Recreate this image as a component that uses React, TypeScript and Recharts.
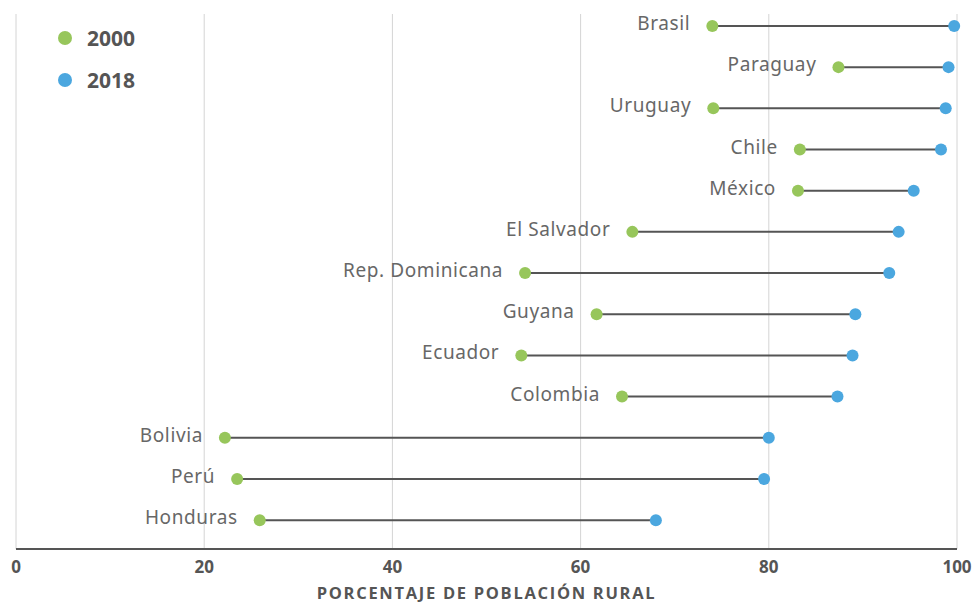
import {
  CartesianGrid,
  ReferenceLine,
  Scatter,
  ScatterChart,
  XAxis,
  YAxis,
  LabelList,
} from 'recharts'

const countries = [
  'Brasil',
  'Paraguay',
  'Uruguay',
  'Chile',
  'México',
  'El Salvador',
  'Rep. Dominicana',
  'Guyana',
  'Ecuador',
  'Colombia',
  'Bolivia',
  'Perú',
  'Honduras',
]
const values2000 = [74.0, 87.4, 74.1, 83.3, 83.1, 65.5, 54.1, 61.7, 53.7, 64.4, 22.2, 23.5, 25.9]
const values2018 = [99.7, 99.1, 98.8, 98.3, 95.4, 93.8, 92.8, 89.2, 88.9, 87.3, 80.0, 79.5, 68.0]
const xTicks = [0, 20, 40, 60, 80, 100]
const seriesNames = ['2000', '2018']

const GREEN = '#97c65b'
const BLUE = '#4ba7df'
const TEXT = '#555555'

const points2000 = countries.map((name, i) => ({ name, x: values2000[i], y: i }))
const points2018 = countries.map((name, i) => ({ name, x: values2018[i], y: i }))

function Dot(props: any) {
  const { cx, cy, fill } = props
  if (typeof cx !== 'number' || typeof cy !== 'number') return null
  return <circle cx={cx} cy={cy} r={6} fill={fill} />
}

function CountryLabel(props: any) {
  const { x, y, width, height, value } = props
  const cx = Number(x) + Number(width || 0) / 2
  const cy = Number(y) + Number(height || 0) / 2
  return (
    <text
      x={cx - 22}
      y={cy - 3}
      textAnchor="end"
      dominantBaseline="central"
      fill="#676767"
      fontSize={19}
      letterSpacing={0.6}
      fontFamily="'Noto Sans', sans-serif"
    >
      {value}
    </text>
  )
}

function LegendBox() {
  const colors = [GREEN, BLUE]
  return (
    <div style={{ position: 'absolute', left: 58, top: 17 }}>
      {seriesNames.map((label, i) => (
        <div key={label} style={{ display: 'flex', alignItems: 'center', height: 42 }}>
          <span
            style={{
              width: 14,
              height: 14,
              borderRadius: 7,
              background: colors[i],
              display: 'inline-block',
              marginRight: 15,
            }}
          />
          <span style={{ color: TEXT, fontWeight: 700, fontSize: 21, fontFamily: "'Open Sans', sans-serif" }}>
            {label}
          </span>
        </div>
      ))}
    </div>
  )
}

export default function App() {
  return (
    <div style={{ position: 'absolute', left: 0, top: 0, width: 974, height: 605, background: '#fff' }}>
      <ScatterChart width={974} height={605} margin={{ top: 14, right: 17, left: 16, bottom: 0 }}>
        <CartesianGrid horizontal={false} stroke="#d4d4d4" strokeWidth={1} />
        <XAxis
          type="number"
          dataKey="x"
          domain={[0, 100]}
          ticks={xTicks}
          height={56}
          axisLine={{ stroke: TEXT, strokeWidth: 2 }}
          tickLine={false}
          tickMargin={6}
          tick={{ fill: TEXT, fontSize: 17, fontWeight: 700, fontFamily: "'Open Sans', sans-serif" }}
          label={{
            value: 'PORCENTAJE DE POBLACIÓN RURAL',
            position: 'insideBottom',
            offset: 6,
            style: {
              fill: TEXT,
              fontSize: 16.5,
              fontWeight: 700,
              letterSpacing: 1.7,
              fontFamily: "'Open Sans', sans-serif",
            },
          }}
        />
        <YAxis type="number" dataKey="y" domain={[-0.29, 12.7]} reversed hide width={0} />
        {countries.map((c, i) => (
          <ReferenceLine
            key={c}
            segment={[
              { x: values2000[i], y: i },
              { x: values2018[i], y: i },
            ]}
            stroke={TEXT}
            strokeWidth={2}
            ifOverflow="visible"
          />
        ))}
        <Scatter name={seriesNames[0]} data={points2000} fill={GREEN} shape={<Dot />} isAnimationActive={false}>
          <LabelList dataKey="name" content={<CountryLabel />} />
        </Scatter>
        <Scatter name={seriesNames[1]} data={points2018} fill={BLUE} shape={<Dot />} isAnimationActive={false} />
      </ScatterChart>
      <LegendBox />
    </div>
  )
}
